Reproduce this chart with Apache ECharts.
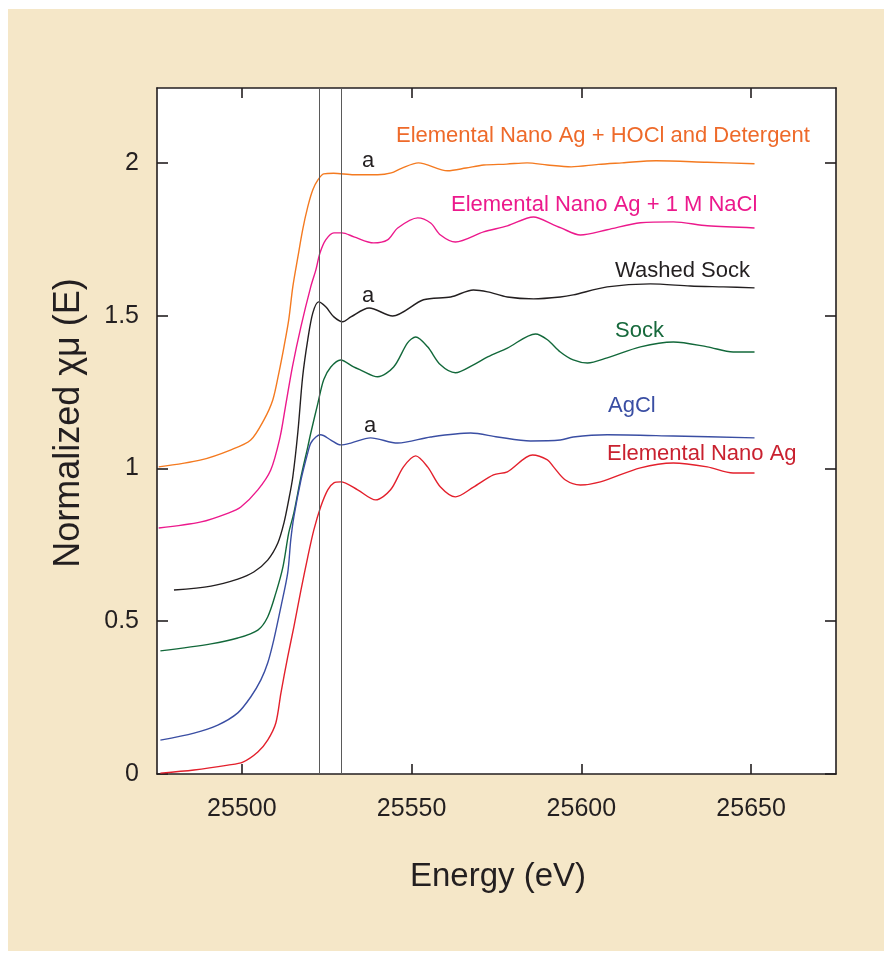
<!DOCTYPE html>
<html>
<head>
<meta charset="utf-8">
<script src="https://cdn.jsdelivr.net/npm/echarts@6/dist/echarts.min.js"></script>
<style>
html,body{margin:0;padding:0;background:#fff;}
#chart{width:890px;height:955px;}
</style>
</head>
<body>
<div id="chart"></div>
<script>
// ---- Data ----
const xTicks = [25500, 25550, 25600, 25650];
const yTicks = [0, 0.5, 1, 1.5, 2];
const edgeMarkers = [25522.8, 25529.4];

const seriesNames = [
  'Elemental Nano Ag + HOCl and Detergent',
  'Elemental Nano Ag + 1 M NaCl',
  'Washed Sock',
  'Sock',
  'AgCl',
  'Elemental Nano Ag'
];

const energyHOCl = [25475.5, 25488, 25496.8, 25502.6, 25506.5, 25509.1, 25510.9, 25512.4, 25513.8, 25515.0, 25516.5, 25517.9, 25519.4, 25520.9, 25522.4, 25524.1, 25527, 25533, 25540, 25544, 25547, 25552, 25560.6, 25566, 25571.2, 25578, 25584, 25590, 25597, 25605, 25612, 25622, 25637, 25651];
const muHOCl     = [1.005, 1.028, 1.061, 1.093, 1.159, 1.224, 1.313, 1.398, 1.486, 1.594, 1.692, 1.781, 1.856, 1.912, 1.944, 1.964, 1.966, 1.961, 1.961, 1.967, 1.982, 2.0, 1.974, 1.983, 1.993, 1.996, 2.0, 1.993, 1.987, 1.995, 2.0, 2.007, 2.002, 1.997];

const energyNaCl = [25475.5, 25488, 25496, 25499.7, 25504.7, 25508.5, 25511.2, 25512.8, 25514.9, 25517.4, 25520.3, 25521.8, 25523.0, 25524.7, 25527.1, 25529.5, 25533, 25538.8, 25542.9, 25545.9, 25551.8, 25555.6, 25558.5, 25562.9, 25571.2, 25578.2, 25585.9, 25591.8, 25594, 25599.7, 25607.6, 25617.4, 25627.1, 25637.1, 25651];
const muNaCl     = [0.805, 0.825, 0.854, 0.874, 0.930, 0.995, 1.10, 1.20, 1.333, 1.464, 1.595, 1.650, 1.705, 1.748, 1.771, 1.771, 1.758, 1.738, 1.748, 1.787, 1.820, 1.803, 1.764, 1.741, 1.774, 1.794, 1.823, 1.797, 1.787, 1.764, 1.781, 1.804, 1.807, 1.794, 1.787];

const energyWashed = [25480, 25490.9, 25498.8, 25503.5, 25507.6, 25510.6, 25512.4, 25513.8, 25515.0, 25516.5, 25517.9, 25519.4, 25520.9, 25522.6, 25524.7, 25527.1, 25529.7, 25532.1, 25537.5, 25544.4, 25553.5, 25561.5, 25568.2, 25572.4, 25578.2, 25585.9, 25593.8, 25597.6, 25607.6, 25620.3, 25632.1, 25641.8, 25651];
const muWashed     = [0.602, 0.615, 0.638, 0.661, 0.700, 0.756, 0.822, 0.897, 0.972, 1.12, 1.30, 1.421, 1.509, 1.545, 1.529, 1.496, 1.480, 1.496, 1.525, 1.499, 1.552, 1.561, 1.584, 1.578, 1.561, 1.555, 1.561, 1.568, 1.594, 1.604, 1.597, 1.594, 1.591];

const energySock = [25476, 25490.9, 25498.8, 25504.7, 25507.6, 25510.0, 25512.1, 25513.8, 25515.3, 25517.4, 25519.4, 25520.3, 25522.4, 25524.1, 25526.2, 25529.1, 25532.9, 25535, 25540, 25544.7, 25548.8, 25551.2, 25554.7, 25558.5, 25562.9, 25568.2, 25572.4, 25578.2, 25586.5, 25590, 25593.8, 25597.6, 25601.8, 25607.6, 25617.4, 25627.1, 25637.1, 25644.7, 25651];
const muSock     = [0.403, 0.426, 0.445, 0.471, 0.514, 0.592, 0.678, 0.789, 0.854, 0.972, 1.070, 1.116, 1.214, 1.290, 1.332, 1.355, 1.332, 1.322, 1.300, 1.332, 1.411, 1.430, 1.398, 1.339, 1.313, 1.339, 1.365, 1.394, 1.440, 1.421, 1.381, 1.355, 1.345, 1.362, 1.398, 1.414, 1.398, 1.381, 1.381];

const energyAgCl = [25476, 25485.9, 25492.9, 25498.8, 25502.6, 25505.6, 25507.6, 25509.4, 25511.5, 25513.5, 25514.4, 25515.3, 25517.4, 25519.4, 25520.3, 25521.8, 25523.2, 25526.2, 25529.1, 25532.1, 25537.9, 25545.9, 25555.6, 25567.4, 25575.3, 25585, 25593.8, 25597.6, 25607.6, 25627.1, 25651];
const muAgCl     = [0.111, 0.134, 0.160, 0.200, 0.252, 0.308, 0.363, 0.439, 0.547, 0.658, 0.766, 0.841, 0.962, 1.051, 1.083, 1.103, 1.110, 1.093, 1.077, 1.083, 1.100, 1.083, 1.103, 1.116, 1.103, 1.090, 1.093, 1.103, 1.110, 1.106, 1.100];

const energyNanoAg = [25476, 25485.9, 25495.9, 25500.3, 25504.7, 25507.6, 25510, 25511.5, 25513.5, 25515.3, 25517.4, 25519.4, 25521.2, 25523.2, 25525.3, 25527.1, 25529.1, 25534.1, 25539.4, 25543.8, 25547.6, 25551.2, 25554.7, 25558.5, 25562.9, 25568.2, 25574.1, 25578.2, 25585.6, 25590, 25591.8, 25595.3, 25599.7, 25605.6, 25617.4, 25627.1, 25637.1, 25644.7, 25651];
const muNanoAg     = [0.003, 0.013, 0.029, 0.039, 0.072, 0.111, 0.167, 0.265, 0.383, 0.481, 0.602, 0.710, 0.799, 0.874, 0.930, 0.953, 0.956, 0.930, 0.897, 0.930, 1.005, 1.041, 1.005, 0.939, 0.907, 0.939, 0.979, 0.989, 1.044, 1.028, 1.005, 0.962, 0.946, 0.956, 1.002, 1.018, 1.005, 0.985, 0.985];

const energies = [energyHOCl, energyNaCl, energyWashed, energySock, energyAgCl, energyNanoAg];
const mus = [muHOCl, muNaCl, muWashed, muSock, muAgCl, muNanoAg];

// ---- Styling ----
const lineColors = ['#f47a20', '#ec198c', '#231f20', '#12683a', '#3a4ea3', '#e3202c'];
const labelColors = ['#ee6a2a', '#ec198c', '#231f20', '#17693c', '#3a4ea3', '#c9212f'];
const ink = '#231f20';
const FONT = '"Liberation Sans", Arial, Helvetica, sans-serif';

const chart = echarts.init(document.getElementById('chart'), null, {renderer: 'canvas'});

const series = seriesNames.map((name, i) => ({
  name: name,
  type: 'line',
  data: energies[i].map((e, k) => [e, mus[i][k]]),
  showSymbol: false,
  smooth: 0.3,
  lineStyle: {color: lineColors[i], width: 1.4},
  z: 3
}));

series.push({
  name: 'markers',
  type: 'line',
  data: [],
  markLine: {
    silent: true,
    symbol: ['none', 'none'],
    label: {show: false},
    lineStyle: {color: '#5a5a5a', width: 1, type: 'solid'},
    data: edgeMarkers.map(v => ({xAxis: v}))
  },
  z: 2
});

const axisLineStyle = {color: ink, width: 1.6};

const labelTexts = [
  {text: seriesNames[0], x: 396, y: 136, c: 0},
  {text: seriesNames[1], x: 451, y: 205, c: 1},
  {text: seriesNames[2], x: 615, y: 271, c: 2},
  {text: seriesNames[3], x: 615, y: 331, c: 3},
  {text: seriesNames[4], x: 608, y: 406, c: 4},
  {text: seriesNames[5], x: 607, y: 454, c: 5}
];
const aMarks = [[362, 161], [362, 296], [364, 426]];

const graphics = [
  {type: 'rect', shape: {x: 8, y: 9, width: 876, height: 942}, style: {fill: '#f5e7c8'}, z: -10, silent: true},
  {type: 'rect', shape: {x: 157, y: 88, width: 679, height: 686}, style: {fill: '#ffffff'}, z: -9, silent: true}
];
labelTexts.forEach(t => graphics.push({
  type: 'text', x: t.x, y: t.y, z: 10,
  style: {text: t.text, fill: labelColors[t.c], font: '22px ' + FONT, align: 'left', verticalAlign: 'middle', textAlign: 'left', textVerticalAlign: 'middle'}
}));
aMarks.forEach(p => graphics.push({
  type: 'text', x: p[0], y: p[1], z: 10,
  style: {text: 'a', fill: ink, font: '22px ' + FONT, align: 'left', verticalAlign: 'middle', textAlign: 'left', textVerticalAlign: 'middle'}
}));
graphics.push({
  type: 'text', x: 498, y: 877, z: 10,
  style: {text: 'Energy (eV)', fill: ink, font: '33px ' + FONT, align: 'center', verticalAlign: 'middle', textAlign: 'center', textVerticalAlign: 'middle'}
});
graphics.push({
  type: 'text', x: 69, y: 423, rotation: Math.PI / 2, z: 10,
  style: {text: 'Normalized χμ (E)', fill: ink, font: '36px ' + FONT, align: 'center', verticalAlign: 'middle', textAlign: 'center', textVerticalAlign: 'middle'}
});

const plain = v => String(v);

chart.setOption({
  animation: false,
  backgroundColor: '#ffffff',
  grid: {left: 157, top: 88, right: 54, bottom: 181, containLabel: false},
  xAxis: [
    {
      type: 'value', min: 25475, max: 25675, position: 'bottom',
      axisLine: {show: true, onZero: false, lineStyle: axisLineStyle},
      axisTick: {show: true, inside: true, length: 10, customValues: xTicks, lineStyle: axisLineStyle},
      axisLabel: {show: true, customValues: xTicks, formatter: plain, fontSize: 25, margin: 23, color: ink, fontFamily: FONT},
      splitLine: {show: false}
    },
    {
      type: 'value', min: 25475, max: 25675, position: 'top',
      axisLine: {show: true, onZero: false, lineStyle: axisLineStyle},
      axisTick: {show: true, inside: true, length: 10, customValues: xTicks, lineStyle: axisLineStyle},
      axisLabel: {show: false},
      splitLine: {show: false}
    }
  ],
  yAxis: [
    {
      type: 'value', min: 0, max: 2.245, position: 'left',
      axisLine: {show: true, onZero: false, lineStyle: axisLineStyle},
      axisTick: {show: true, inside: true, length: 11, customValues: yTicks, lineStyle: axisLineStyle},
      axisLabel: {show: true, customValues: yTicks, formatter: plain, fontSize: 25, margin: 18, color: ink, fontFamily: FONT},
      splitLine: {show: false}
    },
    {
      type: 'value', min: 0, max: 2.245, position: 'right',
      axisLine: {show: true, onZero: false, lineStyle: axisLineStyle},
      axisTick: {show: true, inside: true, length: 11, customValues: yTicks, lineStyle: axisLineStyle},
      axisLabel: {show: false},
      splitLine: {show: false}
    }
  ],
  graphic: graphics,
  series: series
});
</script>
</body>
</html>
